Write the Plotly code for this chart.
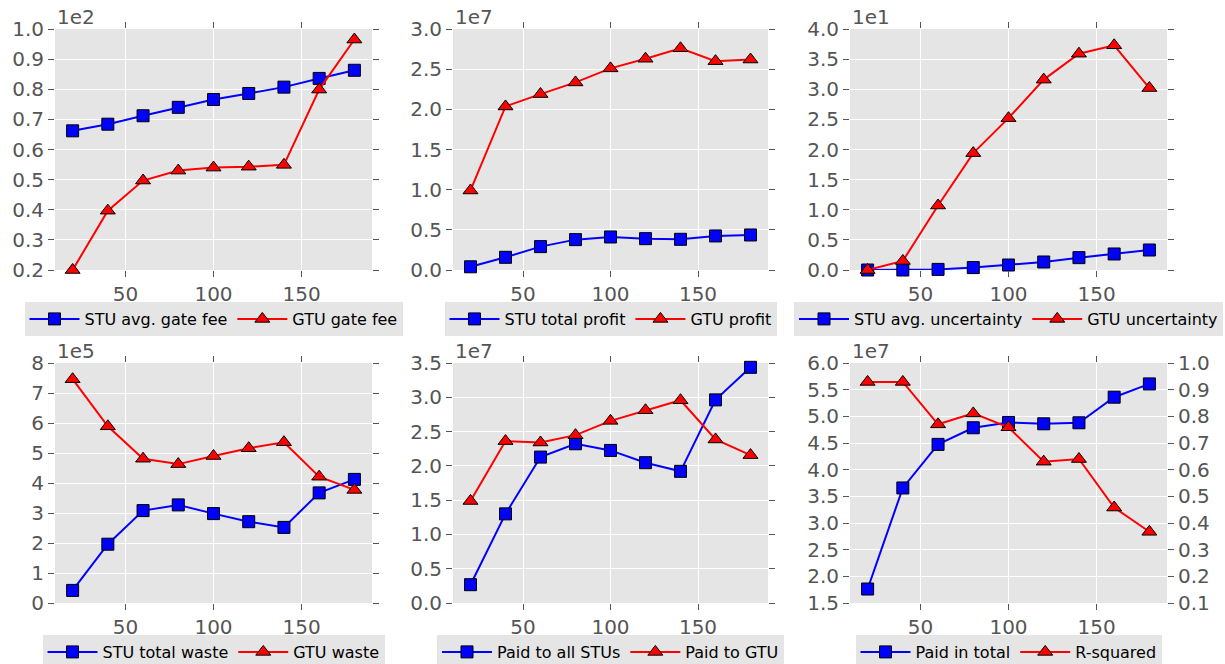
import plotly.graph_objects as go

# ---------------- data ----------------
x_vals = [20, 40, 60, 80, 100, 120, 140, 160, 180]

stu_gate_fee = [66.2, 68.4, 71.2, 74.0, 76.6, 78.6, 80.7, 83.6, 86.3]
gtu_gate_fee = [20.0, 39.7, 49.7, 53.0, 54.0, 54.3, 54.9, 79.9, 96.5]

stu_profit = [0.4e6, 1.58e6, 2.91e6, 3.78e6, 4.11e6, 3.9e6, 3.82e6, 4.24e6, 4.36e6]
gtu_profit = [0.99e7, 2.036e7, 2.19e7, 2.335e7, 2.51e7, 2.63e7, 2.76e7, 2.60e7, 2.62e7]

stu_uncert = [0.0, 0.0, 0.1, 0.4, 0.83, 1.33, 2.05, 2.66, 3.32]
gtu_uncert = [0.0, 1.5, 10.7, 19.4, 25.2, 31.6, 35.9, 37.3, 30.2]

stu_waste = [0.42e5, 1.96e5, 3.08e5, 3.27e5, 2.98e5, 2.71e5, 2.52e5, 3.67e5, 4.12e5]
gtu_waste = [7.46e5, 5.89e5, 4.81e5, 4.63e5, 4.90e5, 5.16e5, 5.36e5, 4.21e5, 3.77e5]

paid_stus = [0.267e7, 1.30e7, 2.128e7, 2.322e7, 2.225e7, 2.046e7, 1.92e7, 2.962e7, 3.437e7]
paid_gtu = [1.488e7, 2.361e7, 2.341e7, 2.448e7, 2.656e7, 2.811e7, 2.957e7, 2.385e7, 2.157e7]

paid_total = [1.762e7, 3.657e7, 4.474e7, 4.786e7, 4.885e7, 4.86e7, 4.879e7, 5.359e7, 5.608e7]
r_squared = [0.929, 0.929, 0.770, 0.811, 0.759, 0.630, 0.640, 0.458, 0.367]

x_ticks = [50, 100, 150]

ticks_gate = ["0.2", "0.3", "0.4", "0.5", "0.6", "0.7", "0.8", "0.9", "1.0"]
ticks_profit = ["0.0", "0.5", "1.0", "1.5", "2.0", "2.5", "3.0"]
ticks_uncert = ["0.0", "0.5", "1.0", "1.5", "2.0", "2.5", "3.0", "3.5", "4.0"]
ticks_waste = ["0", "1", "2", "3", "4", "5", "6", "7", "8"]
ticks_paid = ["0.0", "0.5", "1.0", "1.5", "2.0", "2.5", "3.0", "3.5"]
ticks_total = ["1.5", "2.0", "2.5", "3.0", "3.5", "4.0", "4.5", "5.0", "5.5", "6.0"]
ticks_rsq = ["0.1", "0.2", "0.3", "0.4", "0.5", "0.6", "0.7", "0.8", "0.9", "1.0"]

panels = [
    dict(stu=stu_gate_fee, gtu=gtu_gate_fee, names=("STU avg. gate fee", "GTU gate fee"),
         ticks=ticks_gate, scale=1e2, offset="1e2"),
    dict(stu=stu_profit, gtu=gtu_profit, names=("STU total profit", "GTU profit"),
         ticks=ticks_profit, scale=1e7, offset="1e7"),
    dict(stu=stu_uncert, gtu=gtu_uncert, names=("STU avg. uncertainty", "GTU uncertainty"),
         ticks=ticks_uncert, scale=1e1, offset="1e1"),
    dict(stu=stu_waste, gtu=gtu_waste, names=("STU total waste", "GTU waste"),
         ticks=ticks_waste, scale=1e5, offset="1e5"),
    dict(stu=paid_stus, gtu=paid_gtu, names=("Paid to all STUs", "Paid to GTU"),
         ticks=ticks_paid, scale=1e7, offset="1e7"),
    dict(stu=paid_total, gtu=r_squared, names=("Paid in total", "R-squared"),
         ticks=ticks_total, scale=1e7, offset="1e7"),
]

# ---------------- layout geometry ----------------
W, H = 1225, 664
col_px = [(55, 372), (453, 768), (850, 1167)]
row_px = [(29, 270), (363, 603)]
legend_top_px = [302, 635]

BG = "#E5E5E5"
TXT = "#555555"
FONT = "DejaVu Sans"

fig = go.Figure()
layout = dict(
    width=W, height=H,
    margin=dict(l=0, r=0, t=0, b=0, autoexpand=False),
    paper_bgcolor="white",
    plot_bgcolor=BG,
    font=dict(family=FONT, color=TXT, size=20),
    annotations=[],
)

def axis_common():
    return dict(
        showgrid=True, gridcolor="white", gridwidth=1,
        zeroline=False, showline=False,
        ticks="outside", ticklen=6, tickwidth=1, tickcolor=TXT,
        mirror="ticks",
        tickfont=dict(family=FONT, size=20, color=TXT),
    )

for i, p in enumerate(panels):
    r, c = divmod(i, 3)
    n = i + 1
    xs = "" if n == 1 else str(n)
    xdom = [col_px[c][0] / W, col_px[c][1] / W]
    ydom = [1 - row_px[r][1] / H, 1 - row_px[r][0] / H]
    tv = [float(t) * p["scale"] for t in p["ticks"]]

    xa = axis_common()
    xa.update(domain=xdom, anchor="y" + xs, range=[10, 190], tickvals=x_ticks)
    ya = axis_common()
    ya.update(domain=ydom, anchor="x" + xs, range=[tv[0], tv[-1]],
              tickvals=tv, ticktext=p["ticks"])
    layout["xaxis" + xs] = xa
    layout["yaxis" + xs] = ya

    leg = "legend" + ("" if n == 1 else str(n))
    layout[leg] = dict(
        orientation="h", xanchor="center", yanchor="top",
        x=(xdom[0] + xdom[1]) / 2, y=1 - legend_top_px[r] / H,
        bgcolor=BG, font=dict(family=FONT, size=16, color="black"),
        borderwidth=0, itemwidth=50, tracegroupgap=0,
    )

    fig.add_trace(go.Scatter(
        x=x_vals, y=p["stu"], name=p["names"][0], mode="lines+markers",
        line=dict(color="#0000FF", width=2),
        marker=dict(symbol="square", size=12, color="#0000FF",
                    line=dict(color="black", width=1)),
        xaxis="x" + xs, yaxis="y" + xs, legend=leg, cliponaxis=False,
    ))

    gy = "y" + xs
    if n == 6:
        tv2 = [float(t) for t in ticks_rsq]
        ya2 = axis_common()
        ya2.update(overlaying="y6", side="right", anchor="x6",
                   range=[tv2[0], tv2[-1]], tickvals=tv2, ticktext=ticks_rsq,
                   showgrid=False, mirror=False)
        layout["yaxis7"] = ya2
        gy = "y7"

    fig.add_trace(go.Scatter(
        x=x_vals, y=p["gtu"], name=p["names"][1], mode="lines+markers",
        line=dict(color="#FF0000", width=2),
        marker=dict(symbol="triangle-up", size=13, color="#FF0000",
                    line=dict(color="black", width=1)),
        xaxis="x" + xs, yaxis=gy, legend=leg, cliponaxis=False,
    ))

    layout["annotations"].append(dict(
        text=p["offset"], xref="paper", yref="paper",
        x=xdom[0], y=ydom[1], xanchor="left", yanchor="bottom",
        showarrow=False, font=dict(family=FONT, size=20, color=TXT),
        yshift=-2,
    ))

fig.update_layout(**layout)
fig.write_html("out.html")
